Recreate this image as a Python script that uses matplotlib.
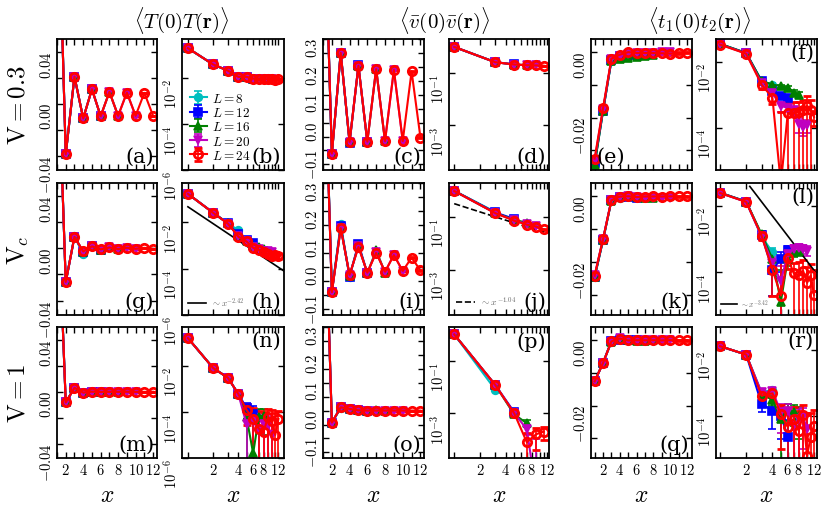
import numpy as np
import matplotlib
matplotlib.use("Agg")
import matplotlib.pyplot as plt
from matplotlib.ticker import NullLocator
from matplotlib.transforms import ScaledTranslation

plt.rcParams['mathtext.fontset'] = 'cm'
plt.rcParams['font.family'] = 'serif'
plt.rcParams['axes.linewidth'] = 1.3
plt.rcParams['xtick.direction'] = 'in'
plt.rcParams['ytick.direction'] = 'in'
plt.rcParams['xtick.top'] = True
plt.rcParams['ytick.right'] = True
for ax_ in ('xtick', 'ytick'):
    plt.rcParams[ax_ + '.major.size'] = 4
    plt.rcParams[ax_ + '.minor.size'] = 4
    plt.rcParams[ax_ + '.major.width'] = 1
    plt.rcParams[ax_ + '.minor.width'] = 1
    plt.rcParams[ax_ + '.labelsize'] = 10.5
    plt.rcParams[ax_ + '.major.pad'] = 3

# ---- data: lists are L = 8, 12, 16, 20, 24 ; entries are x = 1, 2, ... ----
L_sizes = [8, 12, 16, 20, 24]
colors = ['c', 'b', 'g', 'm', 'r']
markers = ['o', 's', '^', 'v', 'o']

# <T(0)T(r)>, V = 0.3   (a), (b)
TT_03 = [
    [0.20, -0.039, 0.021, -0.0112],
    [0.20, -0.039, 0.021, -0.0112, 0.0113, -0.0095],
    [0.20, -0.039, 0.021, -0.0112, 0.0113, -0.0095, 0.0092, -0.0092],
    [0.20, -0.039, 0.021, -0.0112, 0.0113, -0.0095, 0.0092, -0.0092, 0.0087, -0.0092],
    [0.20, -0.039, 0.021, -0.0112, 0.0113, -0.0095, 0.0092, -0.0092, 0.0087, -0.0092, 0.0085, -0.0092],
]
TT_03_err = 0.0002

# <vbar(0)vbar(r)>, V = 0.3   (c), (d)
vv_03 = [
    [0.95, -0.113, 0.252, -0.071],
    [0.95, -0.112, 0.251, -0.072, 0.205, -0.070],
    [0.95, -0.112, 0.250, -0.070, 0.204, -0.069, 0.193, -0.066],
    [0.95, -0.111, 0.250, -0.069, 0.204, -0.068, 0.192, -0.066, 0.189, -0.065],
    [0.95, -0.111, 0.250, -0.069, 0.204, -0.068, 0.192, -0.066, 0.189, -0.066, 0.184, -0.054],
]
vv_03_err = 0.002

# <t1(0)t2(r)>, V = 0.3   (e), (f)
tt_03 = [
    [-0.034, -0.018, -0.0026, -0.0019],
    [-0.034, -0.018, -0.0025, -0.0013, -0.0009, -0.0008],
    [-0.0345, -0.018, -0.0026, -0.0020, -0.0018, -0.0016, -0.00115, -0.0010],
    [-0.033, -0.0175, -0.0022, -0.0011, -0.00045, -0.0004, -0.00033, -0.00013, -0.000105, -0.00012],
    [-0.0325, -0.0172, -0.0020, -0.0008, -0.000002, -0.00027, -0.00028, -0.0003, -0.00035, -0.00045, -0.00035, -0.00021],
]
tt_03_err = [
    [0.0002, 0.0002, 0.0002, 0.0002],
    [0.0002, 0.0002, 0.0002, 0.0001, 0.0001, 0.0001],
    [0.0003, 0.0003, 0.0003, 0.0002, 0.0002, 0.0002, 0.0002, 0.0002],
    [0.0002, 0.0002, 0.0002, 0.0002, 0.00015, 0.0001, 0.0001, 0.00006, 0.00005, 0.00005],
    [0.0003, 0.0003, 0.0005, 0.0003, 0.0003, 0.0003, 0.0003, 0.0003, 0.00035, 0.00045, 0.00035, 0.0001],
]

# <T(0)T(r)>, V = Vc   (g), (h)
TT_c = [
    [0.17, -0.026, 0.0092, -0.0045],
    [0.17, -0.026, 0.0090, -0.0030, 0.0018, -0.0013],
    [0.17, -0.026, 0.0090, -0.0026, 0.0016, -0.0010, 0.0009, -0.0007],
    [0.17, -0.026, 0.0089, -0.0025, 0.0015, -0.0009, 0.0007, -0.0006, 0.0006, -0.00055],
    [0.17, -0.0257, 0.0088, -0.0024, 0.0015, -0.0008, 0.00065, -0.00055, 0.00043, -0.00037, 0.0004, -0.00037],
]
TT_c_err = 0.0001

# <vbar(0)vbar(r)>, V = Vc   (i), (j)
vv_c = [
    [0.97, -0.086, 0.154, -0.033],
    [0.96, -0.088, 0.147, -0.033, 0.084, -0.022],
    [0.96, -0.088, 0.142, -0.030, 0.078, -0.021, 0.060, -0.019],
    [0.95, -0.089, 0.140, -0.028, 0.074, -0.020, 0.054, -0.017, 0.045, -0.014],
    [0.95, -0.089, 0.139, -0.027, 0.072, -0.019, 0.051, -0.016, 0.043, -0.013, 0.034, -0.011],
]
vv_c_err = 0.002

# <t1(0)t2(r)>, V = Vc   (k), (l)
tt_c = [
    [-0.0245, -0.0133, -0.0012, -0.0004],
    [-0.0245, -0.0133, -0.0013, -0.00012, -0.00025, -0.00046],
    [-0.0245, -0.0133, -0.0014, -0.00025, -0.000013, -0.00025, -0.0004, -0.00045],
    [-0.024, -0.013, -0.0012, -0.00019, -0.000054, -0.00035, -0.0005, -0.00055, -0.0005, -0.00045],
    [-0.0241, -0.013, -0.00126, -0.00012, -0.00002, -0.000275, -0.000095, -0.00008, -0.00011, -0.000048, -0.00008, -0.000021],
]
tt_c_err = [
    [0.0002, 0.0002, 0.0003, 0.00015],
    [0.0002, 0.0002, 0.0003, 0.0001, 0.00015, 0.00015],
    [0.0002, 0.0002, 0.0003, 0.00015, 0.0001, 0.0001, 0.00012, 0.00015],
    [0.0002, 0.0002, 0.0003, 0.0001, 0.0001, 0.00015, 0.00015, 0.00015, 0.00015, 0.00015],
    [0.0002, 0.0002, 0.0003, 0.0001, 0.0002, 0.00015, 0.0001, 0.00012, 0.00012, 0.0001, 0.0001, 0.0001],
]

# <T(0)T(r)>, V = 1   (m), (n)
TT_1 = [
    [0.165, -0.0082, 0.0031, -0.0006],
    [0.165, -0.0082, 0.0031, -0.0006, 0.00015, -0.00008],
    [0.165, -0.0082, 0.0031, -0.0006, 0.00006, -0.0000016, 0.00006, -0.00007],
    [0.165, -0.0082, 0.0031, -0.0006, 0.00003, -0.00004, 0.000015, -0.00003, 0.000025, -0.00001],
    [0.165, -0.0082, 0.0031, -0.0006, 0.000126, -0.00005, 0.000019, -0.000014, 0.00006, -0.00004, 0.00001, 0.00005],
]
TT_1_err = [
    [0.0001, 0.0001, 0.0001, 0.0001],
    [0.0001, 0.0001, 0.0001, 0.0001, 0.0001, 0.0001],
    [0.0001, 0.0001, 0.0001, 0.0001, 0.00006, 0.00008, 0.00007, 0.00006],
    [0.0001, 0.0001, 0.0001, 0.0001, 0.00005, 0.00006, 0.00006, 0.00006, 0.00005, 0.00005],
    [0.0001, 0.0001, 0.0001, 0.0001, 0.0001, 0.0001, 0.00009, 0.00009, 0.00008, 0.00008, 0.00008, 0.00006],
]

# <vbar(0)vbar(r)>, V = 1   (o), (p)
vv_1 = [
    [1.0, -0.043, 0.008, 0.006],
    [1.0, -0.043, 0.012, 0.006, 0.0011, 0.0001],
    [1.0, -0.043, 0.012, 0.006, 0.0009, 0.0001, 0.00042, 0.0001],
    [1.0, -0.043, 0.012, 0.006, 0.0010, 0.0001, 0.00025, 0.0001, 0.000001, 0.0001],
    [1.0, -0.043, 0.012, 0.006, 0.0010, 0.0001, 0.00008, 0.0001, 0.00016, 0.0001, 0.0002, 0.0001],
]
vv_1_err = [
    [0.002, 0.002, 0.0005, 0.0005],
    [0.002, 0.002, 0.0005, 0.0005, 0.0002, 0.0002],
    [0.002, 0.002, 0.0005, 0.0005, 0.0002, 0.0002, 0.00012, 0.0001],
    [0.002, 0.002, 0.0005, 0.0005, 0.0002, 0.0002, 0.0001, 0.0001, 0.0001, 0.0001],
    [0.002, 0.002, 0.0005, 0.0005, 0.0002, 0.0002, 0.0001, 0.0001, 0.00012, 0.0001, 0.0001, 0.0001],
]

# <t1(0)t2(r)>, V = 1   (q), (r)
tt_1 = [
    [-0.0126, -0.007, -0.0005, 0.0006],
    [-0.0126, -0.007, -0.00023, 0.00014, -0.0001, -0.000023],
    [-0.0126, -0.007, -0.00045, 0.0003, -0.00008, -0.00015, -0.00013, -0.0001],
    [-0.0126, -0.007, -0.0005, 0.00055, -0.00013, -0.00014, -0.00005, -0.00008, -0.00009, -0.00004],
    [-0.0126, -0.007, -0.0004, 0.00047, -0.00011, -0.000045, -0.00008, -0.000035, -0.000105, -0.000006, -0.000023, -0.00005],
]
tt_1_err = [
    [0.0002, 0.0002, 0.0001, 0.0001],
    [0.0002, 0.0002, 0.0001, 0.0001, 0.00008, 0.00005],
    [0.0002, 0.0002, 0.0001, 0.0001, 0.00008, 0.00008, 0.00008, 0.00008],
    [0.0002, 0.0002, 0.0001, 0.0001, 0.0001, 0.00008, 0.00008, 0.00008, 0.00008, 0.00008],
    [0.0002, 0.0002, 0.0001, 0.0001, 0.0001, 0.0001, 0.0001, 0.0001, 0.0001, 0.0001, 0.0001, 0.0001],
]

# power-law guides (end points)
fit_h_x, fit_h_y = [1.0, 14.0], [0.047, 7.9e-5]
fit_j_x, fit_j_y = [1.0, 12.0], [0.316, 0.0239]
fit_l_x, fit_l_y = [2.2, 12.3], [0.038, 1.06e-4]

col_titles = [r'$\langle T(0)T(\mathbf{r})\rangle$',
              r'$\langle \bar{v}(0)\bar{v}(\mathbf{r})\rangle$',
              r'$\langle t_1(0)t_2(\mathbf{r})\rangle$']
row_titles = [r'$\mathrm{V}=0.3$', r'$\mathrm{V}_c$', r'$\mathrm{V}=1$']
panel_tags = 'abcdefghijklmnopqr'

# ---- layout (pixels of the 830x510 canvas) ----
W, H = 830, 510
fig = plt.figure(figsize=(8.3, 5.1), dpi=100)
col_px = [(57, 157), (182, 284), (323, 424), (449, 549), (591, 692), (716, 817)]
row_px = [(40, 171), (184, 316), (328, 459)]


def make_ax(r, c):
    x0, x1 = col_px[c]
    y0, y1 = row_px[r]
    return fig.add_axes([x0 / W, 1 - y1 / H, (x1 - x0) / W, (y1 - y0) / H])


def lin_x(ax, lim, bottom):
    ax.set_xlim(lim)
    ax.set_xticks([2, 4, 6, 8, 10, 12])
    ax.set_xticklabels([r'$%d$' % t for t in [2, 4, 6, 8, 10, 12]])
    ax.set_xticks([1, 3, 5, 7, 9, 11], minor=True)
    ax.tick_params(labelbottom=bottom)


def log_x(ax, lim, bottom):
    ax.set_xscale('log')
    ax.set_xlim(lim)
    ticks = list(range(1, 13))
    ax.set_xticks(ticks)
    ax.set_xticklabels([r'$%d$' % t if t in (2, 4, 6, 8, 12) else '' for t in ticks])
    ax.xaxis.set_minor_locator(NullLocator())
    ax.tick_params(labelbottom=bottom)


def lin_y(ax, lim, major, minor, nd):
    ax.set_ylim(lim)
    ax.set_yticks(major)
    ax.set_yticklabels([r'$%.*f$' % (nd, v) for v in major])
    ax.set_yticks(minor, minor=True)


def log_y(ax, lim, major):
    ax.set_yscale('log')
    ax.set_ylim(lim)
    ax.set_yticks(major)
    ax.set_yticklabels([r'$10^{%d}$' % round(np.log10(v)) for v in major])
    ax.yaxis.set_minor_locator(NullLocator())


def plot_pair(ax_lin, ax_log, vals, errs, odd_only=False):
    for k in range(len(L_sizes)):
        y = np.array(vals[k])
        x = np.arange(1, len(y) + 1)
        e = np.array(errs[k]) if isinstance(errs, list) else np.full(len(y), errs)
        st = dict(color=colors[k], marker=markers[k], ms=5.5, lw=1.5, capsize=3,
                  capthick=1.2, elinewidth=1.2, mew=1.2)
        if k == 4:
            st.update(mfc='none', ms=6, mew=2)
        ax_lin.errorbar(x, y, yerr=e, **st)
        if odd_only:
            x, y, e = x[::2], y[::2], e[::2]
        ax_log.errorbar(x, np.abs(y), yerr=e, label=r'$L=%d$' % L_sizes[k], **st)


def tag(ax, s, where):
    if where == 'lr':
        ax.text(0.97, 0.03, '(%s)' % s, transform=ax.transAxes, ha='right', va='bottom', fontsize=15)
    elif where == 'ur':
        ax.text(0.97, 0.97, '(%s)' % s, transform=ax.transAxes, ha='right', va='top', fontsize=15)
    else:
        ax.text(0.05, 0.03, '(%s)' % s, transform=ax.transAxes, ha='left', va='bottom', fontsize=15)


def shift_ylabels(ax, px):
    off = ScaledTranslation(0, -px / 100.0, fig.dpi_scale_trans)
    for t in ax.yaxis.get_major_ticks():
        t.label1.set_transform(t.label1.get_transform() + off)


rows = [(TT_03, TT_03_err, vv_03, vv_03_err, tt_03, tt_03_err),
        (TT_c, TT_c_err, vv_c, vv_c_err, tt_c, tt_c_err),
        (TT_1, TT_1_err, vv_1, vv_1_err, tt_1, tt_1_err)]
tag_pos = [['lr', 'lr', 'lr', 'lr', 'll', 'ur'],
           ['lr', 'lr', 'lr', 'lr', 'lr', 'ur'],
           ['lr', 'ur', 'lr', 'ur', 'lr', 'ur']]

axes = [[None] * 6 for _ in range(3)]
for r in range(3):
    bottom = (r == 2)
    TT, TTe, vv, vve, tt, tte = rows[r]
    ax = [make_ax(r, c) for c in range(6)]
    axes[r] = ax
    plot_pair(ax[0], ax[1], TT, TTe)
    plot_pair(ax[2], ax[3], vv, vve, odd_only=True)
    plot_pair(ax[4], ax[5], tt, tte)

    lin_x(ax[0], (1.2, 12.45), bottom)
    lin_y(ax[0], (-0.051, 0.05), [-0.04, 0.0, 0.04], [-0.02, 0.02], 2)
    log_x(ax[1], (0.85, 14), bottom)
    log_y(ax[1], (1e-6, 0.5), [1e-6, 1e-4, 1e-2])

    lin_x(ax[2], (1.1, 12.4), bottom)
    lin_y(ax[2], (-0.17, 0.3), [-0.1, 0.0, 0.1, 0.2, 0.3], [-0.15, -0.05, 0.05, 0.15, 0.25], 1)
    log_x(ax[3], (0.87, 12.7), bottom)
    log_y(ax[3], (2e-5, 1.9), [1e-3, 1e-1])

    lin_x(ax[4], (0.57, 12.6), bottom)
    lin_y(ax[4], (-0.036, 0.004), [-0.02, 0.0], [-0.03, -0.01], 2)
    log_x(ax[5], (0.9, 13), bottom)
    log_y(ax[5], (5.2e-6, 0.048), [1e-4, 1e-2])

    for c in range(6):
        ax[c].tick_params(axis='y', labelrotation=90, pad=2)
        tag(ax[c], panel_tags[6 * r + c], tag_pos[r][c])
        if bottom:
            ax[c].set_xlabel(r'$x$', fontsize=17, labelpad=4)

    fig.text(0.022, 1 - (row_px[r][0] + row_px[r][1]) / 2 / H, row_titles[r],
             rotation=90, ha='center', va='center', fontsize=18)

# legend with system sizes in (b)
axes[0][1].legend(loc='lower left', frameon=False, fontsize=9.5, handlelength=1.3,
                  handletextpad=0.4, labelspacing=0.1, borderaxespad=0.2,
                  bbox_to_anchor=(0.0, 0.0))

# power-law guides
guides = [
    axes[1][1].plot(fit_h_x, fit_h_y, 'k-', lw=1.2)[0],
    axes[1][3].plot(fit_j_x, fit_j_y, 'k--', lw=1.2)[0],
    axes[1][5].plot(fit_l_x, fit_l_y, 'k-', lw=1.2)[0],
]
guide_labels = [r'$\sim x^{-2.42}$', r'$\sim x^{-1.04}$', r'$\sim x^{-3.42}$']
for a_, h_, l_, fs in zip([axes[1][1], axes[1][3], axes[1][5]], guides, guide_labels, [6.5, 7, 5.5]):
    a_.legend([h_], [l_], loc='lower left', frameon=False, fontsize=fs,
              handlelength=2.0, handletextpad=0.5, borderaxespad=0.3, labelcolor='0.4')

for c, xc in zip(range(3), [182, 445, 700]):
    fig.text(xc / W, 1 - 21 / H, col_titles[c], ha='center', va='center', fontsize=15)

# tick labels sit slightly below their ticks, as in the original typesetting
for r in range(3):
    for c in range(6):
        shift_ylabels(axes[r][c], 8 if c % 2 else 4)

fig.savefig('out.png', dpi=100)
